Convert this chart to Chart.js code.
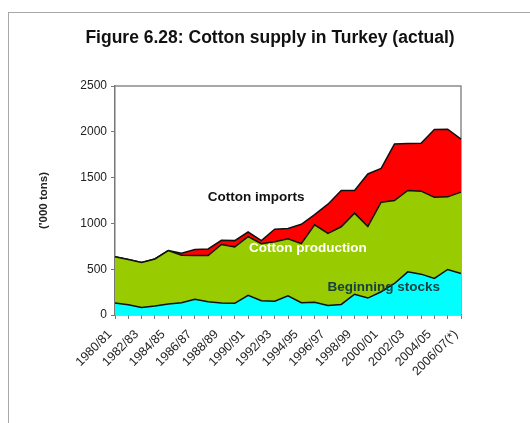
<!DOCTYPE html>
<html lang="en">
<head>
  <meta charset="UTF-8">
  <title>Cotton supply in Turkey (actual)</title>
  <script src="https://cdn.jsdelivr.net/npm/chart.js"></script>
  <style>
    body { margin: 0; background: #fff; }
    .wrap { position: relative; width: 530px; height: 423px; overflow: hidden; }
    .frame {
      position: absolute; left: 8px; top: 12px; width: 600px; height: 500px;
      border: 1px solid #a8a8a8;
    }
    canvas { position: absolute; left: 0; top: 0; }
  </style>
</head>
<body>
<div class="wrap">
  <div class="frame"></div>
  <canvas id="grafico" width="530" height="423"></canvas>
</div>
<script>
  const seasons = ['1980/81','1981/82','1982/83','1983/84','1984/85','1985/86','1986/87','1987/88','1988/89',
    '1989/90','1990/91','1991/92','1992/93','1993/94','1994/95','1995/96','1996/97','1997/98','1998/99',
    '1999/00','2000/01','2001/02','2002/03','2003/04','2004/05','2005/06','2006/07(*)'];

  // '000 tons, stacked bottom to top
  const beginningStocks = [130,113,83,98,120,134,172,145,132,127,214,155,150,210,134,140,105,115,227,185,254,344,471,446,399,497,453];
  const cottonProduction = [505,493,490,514,583,518,478,505,638,617,641,624,650,623,645,845,785,848,885,782,978,906,888,906,887,793,888];
  const cottonImports = [0,0,0,0,0,23,65,71,45,68,51,33,136,112,211,110,320,396,247,573,368,616,513,523,739,739,579];

  const yTicks = [0, 500, 1000, 1500, 2000, 2500];

  // area labels: [text, category position, value, colour]
  const areaLabels = [
    ['Cotton imports', 10.6, 1290, '#111111'],
    ['Cotton production', 14.5, 725, '#ffffff'],
    ['Beginning stocks', 20.2, 300, '#17403f']
  ];

  const fuente = 'Arial, "Liberation Sans", sans-serif';

  const bordePlot = {
    id: 'bordePlot',
    beforeDatasetsDraw(chart) {
      const a = chart.chartArea, ctx = chart.ctx;
      ctx.save();
      ctx.strokeStyle = '#8a8a8a';
      ctx.lineWidth = 1.5;
      ctx.beginPath();
      ctx.moveTo(a.left, a.top);
      ctx.lineTo(a.right, a.top);
      ctx.lineTo(a.right, a.bottom);
      ctx.stroke();
      ctx.restore();
    },
    afterDatasetsDraw(chart) {
      const ctx = chart.ctx, x = chart.scales.x, y = chart.scales.y;
      ctx.save();
      ctx.font = 'bold 13.5px ' + fuente;
      ctx.textAlign = 'center';
      ctx.textBaseline = 'middle';
      areaLabels.forEach(([t, i, v, c]) => {
        ctx.fillStyle = c;
        ctx.fillText(t, x.getPixelForValue(i), y.getPixelForValue(v));
      });
      ctx.restore();
    }
  };

  new Chart(document.getElementById('grafico'), {
    type: 'line',
    data: {
      labels: seasons,
      datasets: [
        { label: 'Beginning stocks', data: beginningStocks, backgroundColor: '#00ffff', fill: 'origin' },
        { label: 'Cotton production', data: cottonProduction, backgroundColor: '#99cc00', fill: '-1' },
        { label: 'Cotton imports', data: cottonImports, backgroundColor: '#ff0000', fill: '-1' }
      ].map(d => Object.assign(d, { borderColor: '#111', borderWidth: 1.5, pointRadius: 0, tension: 0 }))
    },
    options: {
      responsive: false,
      animation: false,
      layout: { padding: { left: 28, right: 18, top: 0, bottom: 0 } },
      plugins: {
        legend: { display: false },
        tooltip: { enabled: false },
        title: {
          display: true,
          text: 'Figure 6.28: Cotton supply in Turkey (actual)',
          color: '#111',
          font: { family: fuente, size: 17.5, weight: 'bold' },
          padding: { top: 28, bottom: 37 }
        }
      },
      scales: {
        x: {
          stacked: true,
          grid: { display: true, drawOnChartArea: false, drawTicks: true, tickLength: 4, color: '#777' },
          border: { display: true, color: '#777', width: 1.5 },
          ticks: {
            autoSkip: false,
            minRotation: 45, maxRotation: 45,
            color: '#222',
            padding: 8,
            labelOffset: -5,
            font: { family: fuente, size: 12.5 },
            callback: (v, i) => i % 2 === 0 ? seasons[i] : ''
          },
          afterFit: s => { s.height = 108; }
        },
        y: {
          stacked: true,
          min: 0, max: 2500,
          afterBuildTicks: s => { s.ticks = yTicks.map(v => ({ value: v })); },
          grid: { display: true, drawOnChartArea: false, drawTicks: true, tickLength: 4, color: '#777' },
          border: { display: true, color: '#777', width: 1.5 },
          ticks: {
            color: '#222',
            padding: 4,
            font: { family: fuente, size: 12 },
            callback: v => String(v)
          },
          title: {
            display: true,
            text: "('000 tons)",
            color: '#222',
            font: { family: fuente, size: 11.5, weight: 'bold' },
            padding: { top: 9, bottom: 0 }
          },
          afterFit: s => { s.width = 87; }
        },
        // empty right-hand band so the title centres over the whole frame
        yHueco: {
          position: 'right',
          display: true,
          grid: { display: false },
          border: { display: false },
          ticks: { display: false },
          afterFit: s => { s.width = 51; }
        }
      }
    },
    plugins: [bordePlot]
  });
</script>
</body>
</html>
